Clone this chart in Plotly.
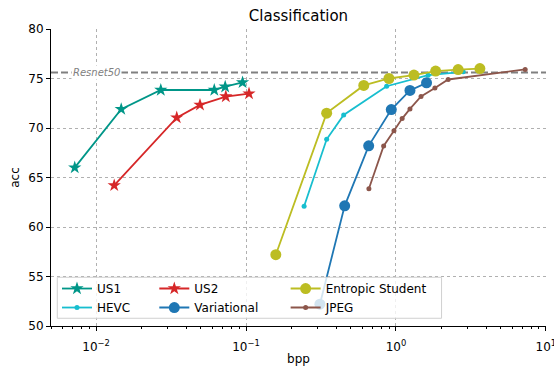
import plotly.graph_objects as go

# ---- data -------------------------------------------------------------
us1_bpp = [0.0072, 0.0147, 0.027, 0.0614, 0.0726, 0.0948]
us1_acc = [66.0, 71.9, 73.84, 73.84, 74.17, 74.6]

hevc_bpp = [0.244, 0.345, 0.448, 0.867, 1.64, 2.81]
hevc_acc = [62.1, 68.86, 71.32, 74.22, 75.34, 75.67]

us2_bpp = [0.0132, 0.0345, 0.0493, 0.0733, 0.1047]
us2_acc = [64.2, 71.05, 72.33, 73.18, 73.48]

var_bpp = [0.311, 0.455, 0.658, 0.931, 1.24, 1.60]
var_acc = [52.2, 62.14, 68.2, 71.86, 73.79, 74.56]

ent_bpp = [0.158, 0.345, 0.61, 0.898, 1.318, 1.84, 2.6, 3.63]
ent_acc = [57.2, 71.5, 74.3, 75.0, 75.35, 75.75, 75.9, 76.0]

jpeg_bpp = [0.66, 0.828, 0.97, 1.10, 1.24, 1.47, 1.82, 2.23, 7.28]
jpeg_acc = [63.86, 68.18, 69.73, 70.95, 71.93, 73.18, 74.05, 74.9, 75.92]

resnet50_acc = 75.6

x_tick_vals = [0.01, 0.1, 1, 10]
x_tick_text = ["10<sup>\u22122</sup>", "10<sup>\u22121</sup>", "10<sup>0</sup>", "10<sup>1</sup>"]
y_tick_vals = [50, 55, 60, 65, 70, 75, 80]

FONT = "DejaVu Sans"

series = [
    # name, x, y, color, symbol, marker size, legend id
    ("US1", us1_bpp, us1_acc, "#009688", "star", 10, "legend"),
    ("HEVC", hevc_bpp, hevc_acc, "#17becf", "circle", 5, "legend"),
    ("US2", us2_bpp, us2_acc, "#d62728", "star", 10, "legend2"),
    ("Variational", var_bpp, var_acc, "#1f77b4", "circle", 11, "legend2"),
    ("Entropic Student", ent_bpp, ent_acc, "#bcbd22", "circle", 11, "legend3"),
    ("JPEG", jpeg_bpp, jpeg_acc, "#8c564b", "circle", 5, "legend3"),
]

fig = go.Figure()
for name, xs, ys, color, symbol, msize, leg in series:
    fig.add_trace(go.Scatter(
        x=xs, y=ys, name=name, mode="lines+markers",
        line=dict(color=color, width=1.8),
        marker=dict(color=color, symbol=symbol, size=msize, line=dict(width=0)),
        legend=leg,
    ))

# minor tick positions on the log axis (2..9 x each decade)
minor_vals = [k * 10.0 ** e for e in range(-3, 1) for k in range(2, 10)]
minor_vals = [v for v in minor_vals if 0.005 <= v <= 10]

fig.update_layout(
    width=554, height=366,
    margin=dict(l=51, r=8, t=29, b=40),
    paper_bgcolor="white", plot_bgcolor="white",
    font=dict(family=FONT, size=12, color="black"),
    title=dict(text="Classification", x=0.5, xref="paper", xanchor="center",
               y=1 - 16 / 366, yref="container", yanchor="middle",
               font=dict(family=FONT, size=15, color="black")),
    xaxis=dict(
        type="log", range=[-2.30103, 1.001], automargin=False,
        tickmode="array", tickvals=x_tick_vals, ticktext=x_tick_text,
        ticks="outside", ticklen=4, tickwidth=0.8, tickcolor="black",
        ticklabelstandoff=6, ticklabeloverflow="allow",
        showline=True, linecolor="black", linewidth=1, mirror=False,
        showgrid=True, gridcolor="#b0b0b0", gridwidth=0.8, griddash="dot",
        zeroline=False,
        minor=dict(tickmode="array", tickvals=minor_vals, ticks="outside",
                   ticklen=2.4, tickwidth=0.6, tickcolor="black", showgrid=False),
        title=dict(text="bpp", standoff=4, font=dict(family=FONT, size=12)),
        tickfont=dict(family=FONT, size=12, color="black"),
    ),
    yaxis=dict(
        range=[50, 80], automargin=False,
        tickmode="array", tickvals=y_tick_vals,
        ticks="outside", ticklen=4, tickwidth=0.8, tickcolor="black",
        showline=True, linecolor="black", linewidth=1, mirror=False,
        showgrid=True, gridcolor="#b0b0b0", gridwidth=0.8, griddash="dot",
        zeroline=False,
        title=dict(text="acc", standoff=6, font=dict(family=FONT, size=12)),
        tickfont=dict(family=FONT, size=12, color="black"),
    ),
    showlegend=True,
)

# three legend columns, laid out like a 3-column legend block
legend_common = dict(
    bgcolor="rgba(0,0,0,0)", borderwidth=0, orientation="v",
    xanchor="left", yanchor="top", xref="paper", yref="paper",
    font=dict(family=FONT, size=12, color="black"), tracegroupgap=0,
)
fig.update_layout(
    legend=dict(x=0.0121, y=0.175, **legend_common),
    legend2=dict(x=0.2087, y=0.175, **legend_common),
    legend3=dict(x=0.474, y=0.175, **legend_common),
)

# semi-transparent legend frame
fig.add_shape(type="rect", xref="paper", yref="paper",
              x0=0.0127, x1=0.789, y0=0.026, y1=0.164,
              fillcolor="rgba(255,255,255,0.8)",
              line=dict(color="#d0d0d0", width=1), layer="above")

# Resnet50 reference line
fig.add_shape(type="line", xref="paper", yref="y",
              x0=0, x1=1, y0=resnet50_acc, y1=resnet50_acc,
              line=dict(color="#808080", width=2, dash="7px,3px"),
              layer="between")
fig.add_annotation(text="<i>Resnet50</i>", xref="paper", yref="y",
                   x=(71 - 51) / 495, y=resnet50_acc,
                   xanchor="left", yanchor="middle", showarrow=False,
                   font=dict(family=FONT, size=10, color="#808080"),
                   bgcolor="white", borderpad=1)

fig.write_html("out.html")
